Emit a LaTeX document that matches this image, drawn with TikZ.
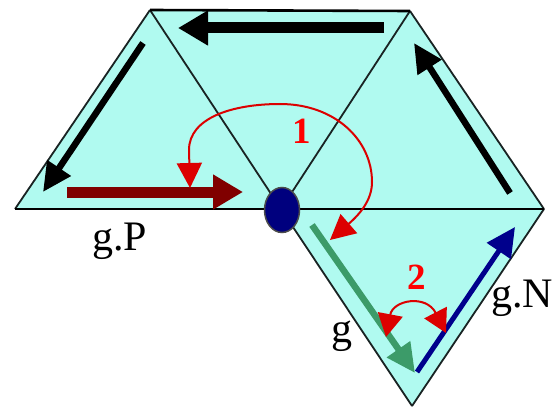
\documentclass[tikz,border=0pt]{standalone}
\usepackage{fontspec}
\setmainfont{Liberation Serif}
\newfontfamily\labelfont{Liberation Serif}
\usetikzlibrary{arrows.meta,shapes.geometric}
\definecolor{cyanfill}{RGB}{176,250,240}
\definecolor{edgecol}{RGB}{25,35,35}
\definecolor{darkred}{RGB}{128,0,0}
\definecolor{greenarr}{RGB}{60,155,105}
\definecolor{navyarr}{RGB}{0,0,140}
\definecolor{arcred}{RGB}{220,0,0}
\tikzset{
  edge/.style={draw=edgecol, line width=1.8pt},
  edgethick/.style={draw=black, line width=2.6pt},
  bigarrow/.style={line width=11pt, -{Triangle[length=30pt,width=33pt]}},
  midarrow/.style={line width=6.5pt, -{Triangle[length=29pt,width=27pt]}},
  arcline/.style={draw=arcred, line width=2pt},
  lbl/.style={font=\labelfont\fontsize{42}{42}\selectfont, inner sep=0pt},
  num/.style={font=\labelfont\bfseries\fontsize{37}{37}\selectfont, text=red, inner sep=0pt}
}
\begin{document}
\begin{tikzpicture}[x=1pt,y=-1pt]
\useasboundingbox (0,0) rectangle (554,409);
% vertices
\coordinate (L)  at (15,209);
\coordinate (T1) at (150,10);
\coordinate (T2) at (410,11);
\coordinate (R)  at (544,209);
\coordinate (B)  at (412,406);
\coordinate (C)  at (281,209);
% fill
\fill[cyanfill] (L) -- (T1) -- (T2) -- (R) -- (B) -- (C) -- cycle;
% edges
\draw[edge] (L) -- (T1);
\draw[edge] (T1) -- (C);
\draw[edge] (C) -- (T2);
\draw[edge] (T2) -- (R);
\draw[edge] (R) -- (B);
\draw[edge] (B) -- (C);
\draw[edgethick] (T1) -- (T2);
\draw[edgethick] (L) -- (R);
% vertex marker
\node[draw=black!70, line width=1.5pt, fill=navyarr!90!black, ellipse, minimum width=35pt, minimum height=45pt, inner sep=0pt] (dot) at (282,210) {};
% arrow end points
\coordinate (a1s) at (384,28);  \coordinate (a1e) at (178,28);
\coordinate (a2s) at (143,43);  \coordinate (a2e) at (43,192);
\coordinate (a3s) at (510,193); \coordinate (a3e) at (414,43);
\coordinate (a4s) at (67,192);  \coordinate (a4e) at (243,192);
\coordinate (a5s) at (312,225); \coordinate (a5e) at (415,373);
\coordinate (a6s) at (417,372); \coordinate (a6e) at (515,227);
% arrows
\draw[bigarrow, black] (a1s) -- (a1e);
\draw[midarrow, black] (a2s) -- (a2e);
\draw[midarrow, black] (a3s) -- (a3e);
\draw[bigarrow, darkred] (a4s) -- (a4e);
\draw[midarrow, greenarr] (a5s) -- (a5e);
\draw[line width=5pt, navyarr, -{Triangle[length=29pt,width=28pt]}] (a6s) -- (a6e);
% curved arrows
\coordinate (c1s) at (190,188);
\coordinate (c1e) at (330,240);
\draw[arcline, {Triangle[length=25pt,width=25pt]}-{Triangle[length=25pt,width=25pt]}, arcred]
  (c1s) -- (189,150) .. controls (189,118) and (232,104) .. (280,104)
  .. controls (335,104) and (372,140) .. (372,182)
  .. controls (372,200) and (360,214) .. (c1e);
\coordinate (c2s) at (386,337);
\coordinate (c2e) at (446,333);
\draw[arcline, {Triangle[length=23pt,width=25pt]}-{Triangle[length=23pt,width=25pt]}, arcred]
  (c2s) .. controls (393,300) and (426,294) .. (c2e);
% labels
\node[lbl, anchor=base west] (gP) at (92,250) {g.P};
\node[lbl, anchor=base west] (g) at (331,342) {g};
\node[lbl, anchor=base west] (gN) at (491,307) {g.N};
\node[num] (n1) at (302,131) {1};
\node[num] (n2) at (417,277) {2};
\end{tikzpicture}
\end{document}
